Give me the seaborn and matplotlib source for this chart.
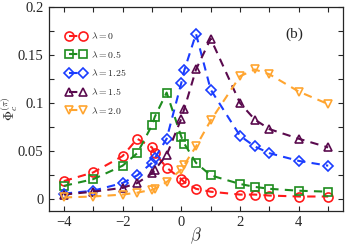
import numpy as np
import pandas as pd
import matplotlib
matplotlib.use("Agg")
import matplotlib.pyplot as plt
from matplotlib.ticker import MultipleLocator, FuncFormatter
import seaborn as sns

beta = [-4, -3, -2, -1.5, -1, -0.9, -0.5, 0, 0.1, 0.5, 1, 2, 2.5, 3, 4, 5]

phi_l0 = [0.019, 0.028, 0.045, 0.063, 0.054, 0.048, 0.033, 0.021, 0.018, 0.011, 0.008, 0.005, 0.005, 0.004, 0.003, 0.003]
phi_l05 = [0.014, 0.021, 0.035, 0.048, 0.077, 0.086, 0.111, 0.065, 0.058, 0.038, 0.025, 0.016, 0.013, 0.011, 0.009, 0.008]
phi_l125 = [0.006, 0.009, 0.017, 0.025, 0.038, 0.043, 0.063, 0.121, 0.134, 0.172, 0.114, 0.066, 0.055, 0.048, 0.040, 0.035]
phi_l15 = [0.005, 0.008, 0.012, 0.017, 0.027, 0.031, 0.046, 0.084, 0.094, 0.135, 0.167, 0.100, 0.083, 0.073, 0.063, 0.054]
phi_l20 = [0.002, 0.003, 0.005, 0.007, 0.010, 0.011, 0.018, 0.031, 0.036, 0.055, 0.082, 0.128, 0.135, 0.130, 0.112, 0.099]

labels = [r"$\lambda = 0$", r"$\lambda = 0.5$", r"$\lambda = 1.25$", r"$\lambda = 1.5$", r"$\lambda = 2.0$"]
series = [phi_l0, phi_l05, phi_l125, phi_l15, phi_l20]
colors = ["#ff1a1a", "#1e8c1e", "#1a3cff", "#5a0a4e", "#ffa530"]
markers = ["o", "s", "D", "^", "v"]
msizes = [6.5, 5.5, 4.8, 6.0, 6.0]

sns.set_style("ticks")
plt.rcParams["font.family"] = ["Liberation Serif", "DejaVu Serif"]
plt.rcParams["mathtext.fontset"] = "cm"

fig = plt.figure(figsize=(3.46, 2.47), dpi=100)
ax = fig.add_axes([0.142, 0.146, 0.849, 0.826])

for lab, ys, c, m, ms in zip(labels, series, colors, markers, msizes):
    df = pd.DataFrame({"beta": beta, "phi": ys})
    sns.lineplot(data=df, x="beta", y="phi", ax=ax, color=c, marker=m,
                 markersize=ms, markerfacecolor="none", markeredgecolor=c,
                 markeredgewidth=1.2, linewidth=1.5, dashes=False,
                 linestyle=(0, (4, 3)), label=lab)

ax.set_xlim(-4.5, 5.5)
ax.set_ylim(-0.012, 0.2)
ax.xaxis.set_major_locator(MultipleLocator(1))
ax.xaxis.set_major_formatter(FuncFormatter(lambda v, p: ("\u2212%d" % abs(v) if v < 0 else "%d" % v) if int(round(v)) % 2 == 0 else ""))
ax.yaxis.set_major_locator(MultipleLocator(0.025))
def yfmt(v, p):
    k = int(round(v / 0.025))
    if k % 2:
        return ""
    s = "%g" % round(v, 3)
    return s
ax.yaxis.set_major_formatter(FuncFormatter(yfmt))
ax.tick_params(direction="in", top=True, right=True, length=3.5, width=0.8, labelsize=10.5, pad=4)
for sp in ax.spines.values():
    sp.set_linewidth(0.9)
    sp.set_visible(True)

ax.set_xlabel(r"$\beta$", fontsize=12, labelpad=-3)
ax.set_ylabel(r"$\Phi_c^{(\pi)}$", fontsize=10, labelpad=0)
ax.yaxis.set_label_coords(-0.10, 0.5)
ax.text(0.833, 0.868, "(b)", transform=ax.transAxes, fontsize=11, ha="center", va="center")

leg = ax.legend(loc="upper left", frameon=False, fontsize=7, handlelength=2.0, numpoints=2,
                bbox_to_anchor=(0.045, 0.905), labelspacing=0.78, handletextpad=0.5, borderaxespad=0)

fig.savefig("out.png", dpi=100)
